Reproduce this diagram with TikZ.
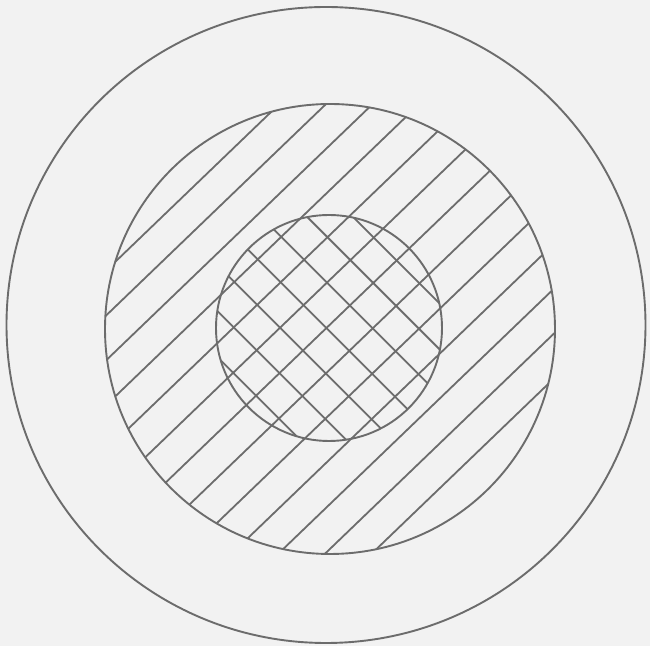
\documentclass[tikz,border=0pt]{standalone}
\begin{document}
\begin{tikzpicture}[x=0.5pt,y=-0.5pt]
\definecolor{bgc}{RGB}{242,242,242}
\definecolor{inkc}{RGB}{108,108,108}
\tikzset{ring/.style={draw=inkc,line width=0.95pt},
         hatch/.style={draw=inkc,line width=0.9pt}}
\fill[bgc] (0,0) rectangle (650,646);
\useasboundingbox (0,0) rectangle (650,646);
% middle ring hatching (also runs through inner disc)
\begin{scope}
\clip (330,329) circle[radius=225];
\foreach \k in {0,...,12} {
  \pgfmathsetmacro\a{0.7071*(-197.3+32.35*\k)}
  \draw[hatch] ({330+\a-260},{329+\a+250}) -- ({330+\a+260},{329+\a-250});
}
\end{scope}
% inner disc cross hatching
\begin{scope}
\clip (329,328) circle[radius=113];
\foreach \k in {0,...,6} {
  \pgfmathsetmacro\b{0.7071*(-1.9+32.5*(\k-3))}
  \draw[hatch] ({330+\b-150},{329-\b-150}) -- ({330+\b+150},{329-\b+150});
}
\end{scope}
\draw[ring] (326,325) ellipse[x radius=319.5,y radius=318];
\draw[ring] (330,329) circle[radius=225];
\draw[ring] (329,328) circle[radius=113];
\end{tikzpicture}
\end{document}
